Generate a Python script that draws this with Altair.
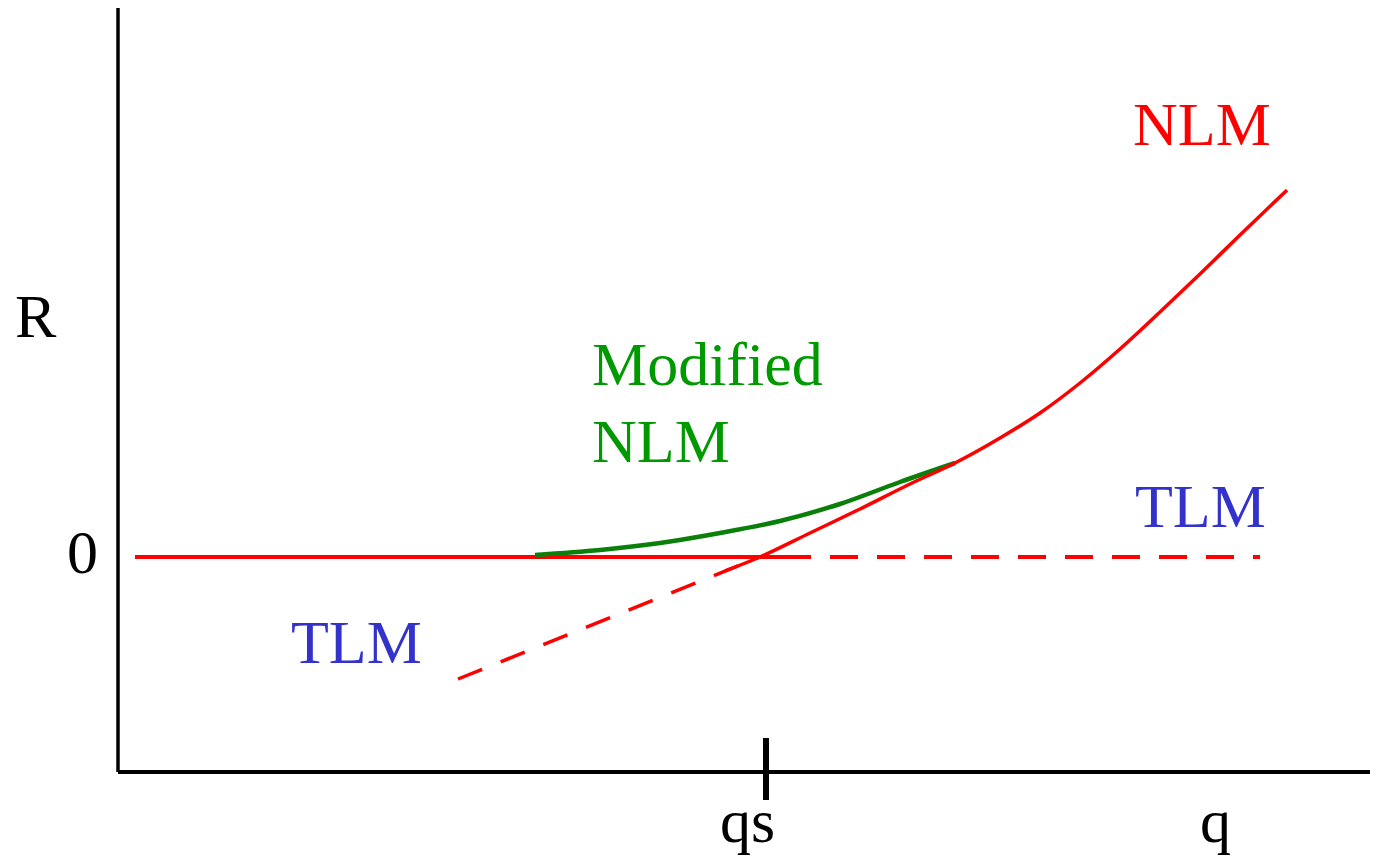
import altair as alt
import pandas as pd

# ---- data (q, R units) ----
flat_solid_q = [17, 693]
flat_solid_R = [0, 0]
flat_dash_q = [712, 1142]
flat_dash_R = [0, 0]
tlm_diag_q = [340, 642]
tlm_diag_R = [-122, 0]
nlm_q = [607, 642, 692, 742, 792, 837, 882, 922, 962, 1002, 1042, 1082, 1122, 1169]
nlm_R = [-14, 0, 24, 48, 73, 94, 119, 144, 174, 208, 245, 283, 322, 367]
mod_q = [417, 482, 542, 602, 662, 722, 782, 837]
mod_R = [2, 7, 14, 24, 36, 53, 75, 94]
qs_value = 648

label_text = ["NLM", "Modified", "NLM", "TLM", "TLM", "R", "0", "qs", "q"]
label_q = [1015, 474, 474, 173, 1017, -103, -51, 602, 1082]
label_R = [412, 172, 95, -106, 30, 220, -16, -285, -285]
label_color = ["#FF0000", "#009900", "#009900", "#3333CC", "#3333CC",
               "#000000", "#000000", "#000000", "#000000"]

X_DOM = [0, 1252]
Y_DOM = [-215, 549]
W, H = 1252, 764

xs = alt.Scale(domain=X_DOM, nice=False, zero=False)
ys = alt.Scale(domain=Y_DOM, nice=False, zero=False)


def line_layer(qv, rv, color, width, dash=None, interp="linear"):
    df = pd.DataFrame({"q": qv, "R": rv, "i": range(len(qv))})
    kw = dict(color=color, strokeWidth=width, interpolate=interp, strokeCap="butt")
    if dash:
        kw["strokeDash"] = dash
    return alt.Chart(df).mark_line(**kw).encode(
        x=alt.X("q:Q", scale=xs, axis=None),
        y=alt.Y("R:Q", scale=ys, axis=None),
        order="i:Q",
    )


layers = []
# axes
layers.append(alt.Chart(pd.DataFrame({"q": [0], "R": [Y_DOM[0]], "R2": [Y_DOM[1]]})).mark_rule(
    color="black", strokeWidth=3.5).encode(
    x=alt.X("q:Q", scale=xs, axis=None), y=alt.Y("R:Q", scale=ys, axis=None), y2="R2:Q"))
layers.append(alt.Chart(pd.DataFrame({"q": [0], "q2": [1262], "R": [Y_DOM[0]]})).mark_rule(
    color="black", strokeWidth=4).encode(
    x=alt.X("q:Q", scale=xs, axis=None), x2="q2:Q", y=alt.Y("R:Q", scale=ys, axis=None)))
# qs tick
layers.append(alt.Chart(pd.DataFrame({"q": [qs_value], "R": [-181], "R2": [-243]})).mark_rule(
    color="black", strokeWidth=6).encode(
    x=alt.X("q:Q", scale=xs, axis=None), y=alt.Y("R:Q", scale=ys, axis=None), y2="R2:Q"))

layers.append(line_layer(flat_solid_q, flat_solid_R, "#FF0000", 4))
layers.append(line_layer(flat_dash_q, flat_dash_R, "#FF0000", 4, dash=[28, 19]))
layers.append(line_layer(tlm_diag_q, tlm_diag_R, "#FF0000", 3.5, dash=[26, 20]))
layers.append(line_layer(mod_q, mod_R, "#0A7F0A", 4.5, interp="monotone"))
layers.append(line_layer(nlm_q, nlm_R, "#FF0000", 3.5, interp="monotone"))

lab_df = pd.DataFrame({"t": label_text, "q": label_q, "R": label_R, "c": label_color})
layers.append(alt.Chart(lab_df).mark_text(
    align="left", baseline="alphabetic", font="Liberation Serif", fontSize=62).encode(
    x=alt.X("q:Q", scale=xs, axis=None),
    y=alt.Y("R:Q", scale=ys, axis=None),
    text="t:N",
    color=alt.Color("c:N", scale=None),
))

chart = alt.layer(*layers).properties(
    width=W, height=H,
    background="white",
    autosize=alt.AutoSizeParams(type="none"),
    padding={"left": 110, "top": 0, "right": 0, "bottom": 84},
).configure_view(stroke=None, strokeWidth=0)

chart.save("out.html", embed_options={"renderer": "svg", "actions": False})
